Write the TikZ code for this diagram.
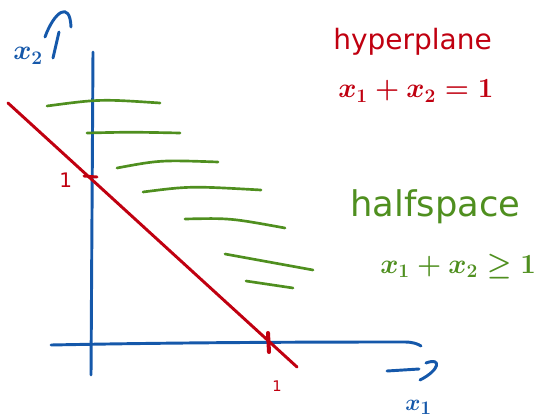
\documentclass[tikz,border=0pt]{standalone}
\usepackage{fontspec}
\setmainfont{DejaVu Sans}
\definecolor{pblue}{HTML}{1558AA}
\definecolor{pred}{HTML}{C00010}
\definecolor{pgreen}{HTML}{4F8F1F}
\begin{document}
\begin{tikzpicture}[x=0.75pt,y=-0.75pt, line cap=round, line join=round,
  ax/.style={pblue, line width=2.2pt},
  hyp/.style={pred, line width=2.2pt},
  hatch/.style={pgreen, line width=2pt},
  lbl/.style={inner sep=0pt, anchor=base west}]
\useasboundingbox (0,0) rectangle (548,417);
% axes
\draw[ax] (93,52) -- (91,375);
\draw[ax] (51,345) .. controls (200,342) and (350,342) .. (405,342) .. controls (413,342) and (418,344) .. (421,346);
% hand-drawn arrow heads
\draw[ax] (387,371) -- (419,369);
\draw[ax] (426,363) .. controls (442,357) and (440,370) .. (420,380);
\draw[ax] (53,58) -- (59,32);
\draw[ax] (45,37) .. controls (54,12) and (70,0) .. (71,27);
% hatching
\draw[hatch] (47,106) .. controls (100,99) .. (160,103);
\draw[hatch] (87,133) .. controls (130,132) .. (180,133);
\draw[hatch] (117,168) .. controls (160,160) .. (218,162);
\draw[hatch] (143,192) .. controls (190,186) .. (261,190);
\draw[hatch] (185,219) .. controls (230,218) .. (285,228);
\draw[hatch] (225,254) -- (313,270);
\draw[hatch] (246,281) -- (293,288);
% hyperplane line and ticks
\draw[hyp] (8,103) -- (297,367);
\draw[hyp] (84,176) -- (97,177);
\draw[hyp, line width=3pt] (268,333) -- (269,352);
% labels
\node[lbl, text=pblue, font=\boldmath\fontsize{21}{23}\selectfont] (x2) at (13,60) {$x_2$};
\node[lbl, text=pblue, font=\boldmath\fontsize{19}{21}\selectfont] (x1) at (405,410) {$x_1$};
\node[lbl, text=pred, font=\fontsize{15}{17}\selectfont] (one2) at (59,187) {1};
\node[lbl, text=pred, font=\fontsize{11}{13}\selectfont] (one1) at (272,391) {1};
\node[lbl, text=pred, font=\fontsize{21}{23}\selectfont] (hyptxt) at (333,50) {hyperplane};
\node[lbl, text=pred, font=\boldmath\fontsize{21}{23}\selectfont] (hypeq) at (338,98) {$x_1 + x_2 = 1$};
\node[lbl, text=pgreen, font=\fontsize{26.5}{28}\selectfont] (hstxt) at (350,216) {halfspace};
\node[lbl, text=pgreen, font=\boldmath\fontsize{21}{23}\selectfont] (hseq) at (380,273) {$x_1 + x_2 \geq 1$};
\end{tikzpicture}
\end{document}
